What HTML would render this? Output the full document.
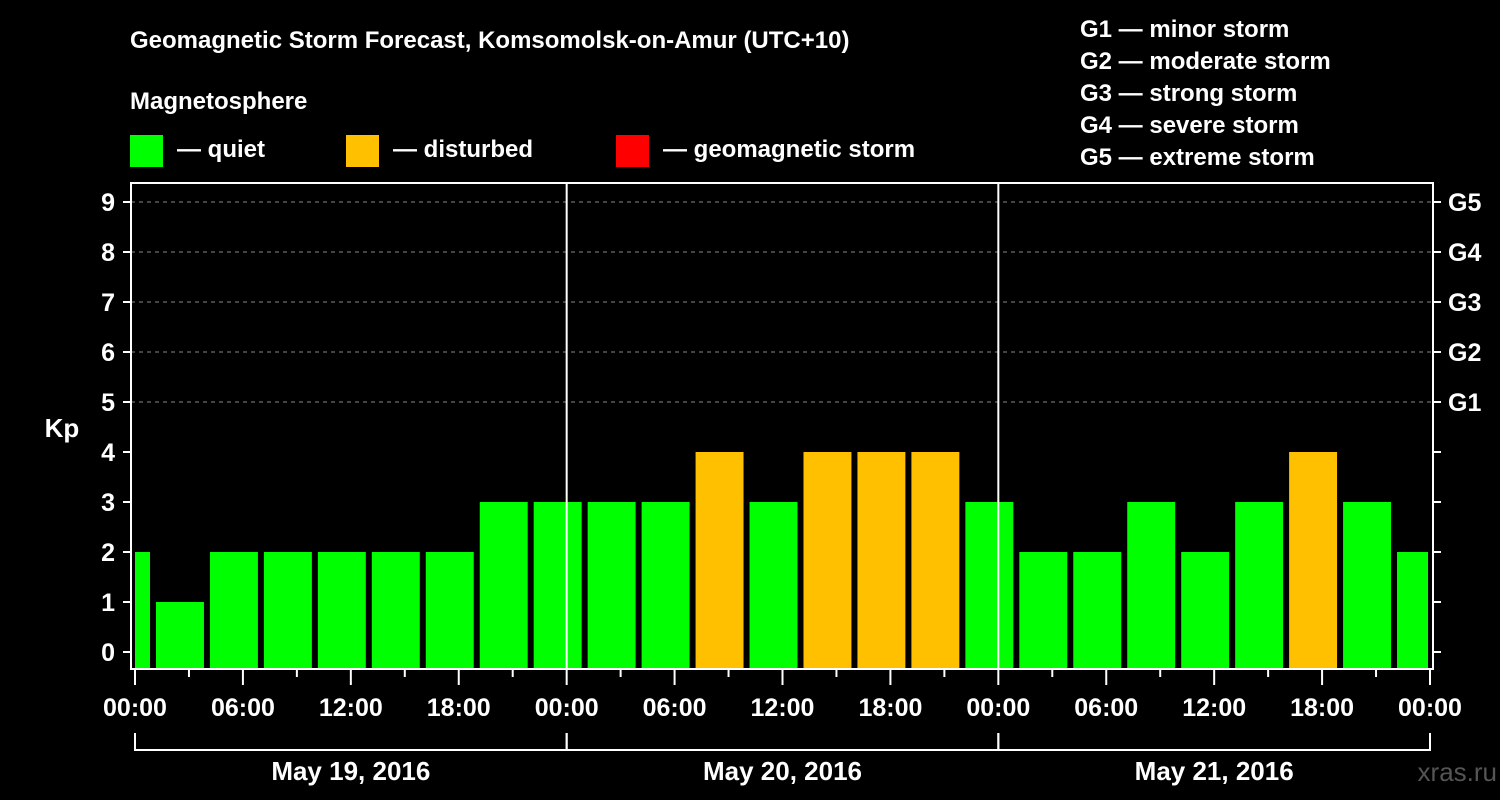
<!DOCTYPE html>
<html><head><meta charset="utf-8"><style>
html,body{margin:0;padding:0;background:#000;}
svg{display:block;font-family:"Liberation Sans",Arial,sans-serif;font-weight:bold;}
</style></head><body>
<svg id="chart" width="1500" height="800" xmlns="http://www.w3.org/2000/svg">
<rect x="0" y="0" width="1500" height="800" fill="#000"/>
<text x="130" y="48" fill="#fff" font-size="24">Geomagnetic Storm Forecast, Komsomolsk-on-Amur (UTC+10)</text>
<text x="130" y="109" fill="#fff" font-size="24">Magnetosphere</text>
<g><rect x="130" y="135" width="33" height="32" fill="#00ff00"/><text x="177" y="157" fill="#fff" font-size="24">— quiet</text></g>
<g><rect x="346" y="135" width="33" height="32" fill="#ffc000"/><text x="393" y="157" fill="#fff" font-size="24">— disturbed</text></g>
<g><rect x="616" y="135" width="33" height="32" fill="#ff0000"/><text x="663" y="157" fill="#fff" font-size="24">— geomagnetic storm</text></g>
<g fill="#fff" font-size="24">
<text x="1080" y="37">G1 — minor storm</text>
<text x="1080" y="69">G2 — moderate storm</text>
<text x="1080" y="101">G3 — strong storm</text>
<text x="1080" y="133">G4 — severe storm</text>
<text x="1080" y="165">G5 — extreme storm</text>
</g>
<g id="grid"></g>
<g id="bars"></g>
<g id="axes"></g>
<text x="62" y="437" fill="#fff" font-size="26" text-anchor="middle">Kp</text>
<text x="1497" y="781" fill="#555" font-size="26" text-anchor="end" font-weight="normal">xras.ru</text>
</svg>
<script>
const kpValues = [2,1,2,2,2,2,2,3,3,3,3,4,3,4,4,4,3,2,2,3,2,3,4,3,2];
const barCenterHours = [-0.5,2.5,5.5,8.5,11.5,14.5,17.5,20.5,23.5,26.5,29.5,32.5,35.5,38.5,41.5,44.5,47.5,50.5,53.5,56.5,59.5,62.5,65.5,68.5,71.5];
const xTickLabels = ["00:00","06:00","12:00","18:00","00:00","06:00","12:00","18:00","00:00","06:00","12:00","18:00","00:00"];
const dayLabels = ["May 19, 2016","May 20, 2016","May 21, 2016"];
const yTickLabels = ["0","1","2","3","4","5","6","7","8","9"];
const gLabels = {5:"G1",6:"G2",7:"G3",8:"G4",9:"G5"};

const NS="http://www.w3.org/2000/svg";
const L=131,R=1433,T=183,B=669;
const x0=135,x1=1430;
const xs=h=>x0+(x1-x0)*h/72;
const ys=v=>652-50*v;
function mk(tag,attrs,parent){const e=document.createElementNS(NS,tag);for(const k in attrs)e.setAttribute(k,attrs[k]);parent.appendChild(e);return e;}
const grid=document.getElementById('grid'),bars=document.getElementById('bars'),axes=document.getElementById('axes');
for(let v=5;v<=9;v++){
 const g=mk('line',{x1:L,x2:R,y1:ys(v),y2:ys(v),stroke:'#888','stroke-dasharray':'4,4','stroke-width':1},grid);
 
 
}
kpValues.forEach((v,i)=>{
 const c=xs(barCenterHours[i]),hw=xs(1.333)-xs(0);
 let a=Math.max(c-hw,L+4),b=Math.min(c+hw,x1-2);
 const col=v>=5?'#ff0000':(v>=4?'#ffc000':'#00ff00');
 const r=mk('rect',{x:a,y:ys(v),width:b-a,height:B-ys(v),fill:col},bars);
 
 
});
[24,48].forEach(h=>{const l=mk('line',{x1:xs(h),x2:xs(h),y1:T,y2:B,stroke:'#fff','stroke-width':2},axes);
 
 });
const fr=mk('rect',{x:L,y:T,width:R-L,height:B-T,fill:'none',stroke:'#fff','stroke-width':2},axes);


yTickLabels.forEach((t,v)=>{
 mk('line',{x1:L-8,x2:L,y1:ys(v),y2:ys(v),stroke:'#fff','stroke-width':2},axes);
 mk('line',{x1:R,x2:R+8,y1:ys(v),y2:ys(v),stroke:'#fff','stroke-width':2},axes);
 const tx=mk('text',{x:L-16,y:ys(v)+9,fill:'#fff','font-size':25,'text-anchor':'end'},axes);tx.textContent=t;
 
 
 if(gLabels[v]){const g=mk('text',{x:R+15,y:ys(v)+9,fill:'#fff','font-size':25},axes);g.textContent=gLabels[v];
  
  }
});
for(let h=0;h<=72;h+=3){
 const major=h%6===0;
 mk('line',{x1:xs(h),x2:xs(h),y1:B,y2:B+(major?16:8),stroke:'#fff','stroke-width':2},axes);
}
xTickLabels.forEach((t,i)=>{
 const tx=mk('text',{x:xs(i*6),y:716,fill:'#fff','font-size':25,'text-anchor':'middle'},axes);tx.textContent=t;
 
 
});
dayLabels.forEach((t,i)=>{
 const a=xs(i*24),b=xs(i*24+24);
 mk('path',{d:`M${a} 733V750H${b}V733`,fill:'none',stroke:'#fff','stroke-width':2},axes);
 const tx=mk('text',{x:(a+b)/2,y:780,fill:'#fff','font-size':26,'text-anchor':'middle'},axes);tx.textContent=t;
 
 
});
</script>
</body></html>
